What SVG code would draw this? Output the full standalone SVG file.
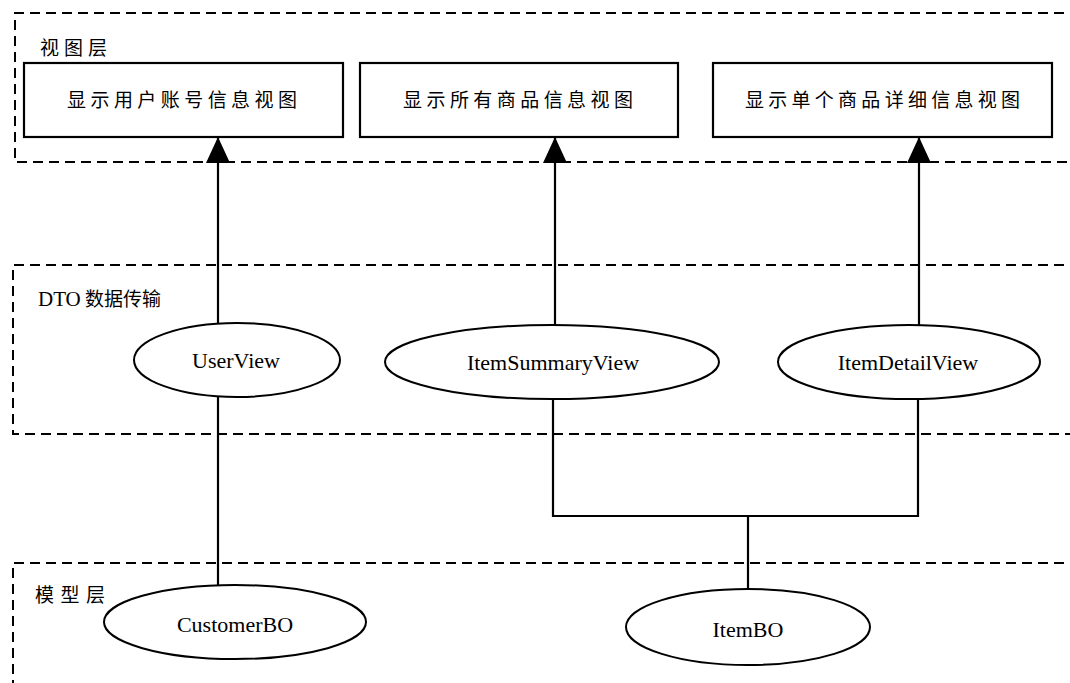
<svg xmlns="http://www.w3.org/2000/svg" width="1070" height="683" viewBox="0 0 1070 683">
  <style>
    .layer { fill: none; stroke: #000; stroke-width: 2; stroke-dasharray: 10 6; }
    .box { fill: #fff; stroke: #000; stroke-width: 2.2; }
    .oval { fill: #fff; stroke: #000; stroke-width: 2; }
    .wire { fill: none; stroke: #000; stroke-width: 2.2; }
    .cjk { font-family: "Noto Sans CJK SC", "Noto Sans", sans-serif; font-size: 19px; fill: #000; }
    .lat { font-family: "Liberation Serif", "Times New Roman", serif; font-size: 22px; fill: #000; text-anchor: middle; }
  </style>
  <defs>
    <marker id="arrow" viewBox="0 0 26 24" refX="26" refY="12" markerWidth="26" markerHeight="24" markerUnits="userSpaceOnUse" orient="auto">
      <path d="M0,0 L26,12 L0,24 Z" fill="#000"/>
    </marker>
  </defs>

  <!-- layer frames (open on the right) -->
  <g id="layers">
    <path class="layer" d="M1080,13 H15 V162 H1080"/>
    <path class="layer" d="M1080,265 H13 V434 H1080"/>
    <path class="layer" d="M1080,563 H13 V690"/>
    <text class="cjk" x="40" y="55" textLength="67" lengthAdjust="spacing">视图层</text>
    <text class="cjk" x="38" y="306" font-size="21"><tspan font-family="Liberation Serif, serif" font-size="21">DTO</tspan> 数据传输</text>
    <text class="cjk" x="35" y="602" textLength="70" lengthAdjust="spacing">模型层</text>
  </g>

  <!-- connectors -->
  <g id="connectors">
    <line class="wire" x1="218" y1="324" x2="218" y2="137" marker-end="url(#arrow)"/>
    <line class="wire" x1="555" y1="325" x2="555" y2="137" marker-end="url(#arrow)"/>
    <line class="wire" x1="919" y1="325" x2="919" y2="137" marker-end="url(#arrow)"/>
    <line class="wire" x1="218" y1="396" x2="218" y2="586"/>
    <polyline class="wire" points="553,399 553,516 918,516 918,399"/>
    <line class="wire" x1="748" y1="516" x2="748" y2="590"/>
  </g>

  <!-- view layer -->
  <g id="view-user">
    <rect class="box" x="24" y="63" width="319" height="74"/>
    <text class="cjk" x="67" y="107" textLength="230" lengthAdjust="spacing">显示用户账号信息视图</text>
  </g>
  <g id="view-items">
    <rect class="box" x="360" y="63" width="318" height="74"/>
    <text class="cjk" x="403" y="107" textLength="230" lengthAdjust="spacing">显示所有商品信息视图</text>
  </g>
  <g id="view-item-detail">
    <rect class="box" x="713" y="63" width="339" height="74"/>
    <text class="cjk" x="745" y="107" textLength="275" lengthAdjust="spacing">显示单个商品详细信息视图</text>
  </g>

  <!-- DTO layer -->
  <g id="dto-userview">
    <ellipse class="oval" cx="237" cy="360" rx="103" ry="37"/>
    <text class="lat" x="236" y="368">UserView</text>
  </g>
  <g id="dto-itemsummaryview">
    <ellipse class="oval" cx="552" cy="362" rx="167" ry="37"/>
    <text class="lat" x="553" y="370">ItemSummaryView</text>
  </g>
  <g id="dto-itemdetailview">
    <ellipse class="oval" cx="909" cy="362" rx="131" ry="37"/>
    <text class="lat" x="908" y="370">ItemDetailView</text>
  </g>

  <!-- model layer -->
  <g id="model-customerbo">
    <ellipse class="oval" cx="235" cy="622" rx="131" ry="37"/>
    <text class="lat" x="235" y="632">CustomerBO</text>
  </g>
  <g id="model-itembo">
    <ellipse class="oval" cx="748" cy="627" rx="122" ry="38"/>
    <text class="lat" x="748" y="637">ItemBO</text>
  </g>
</svg>
